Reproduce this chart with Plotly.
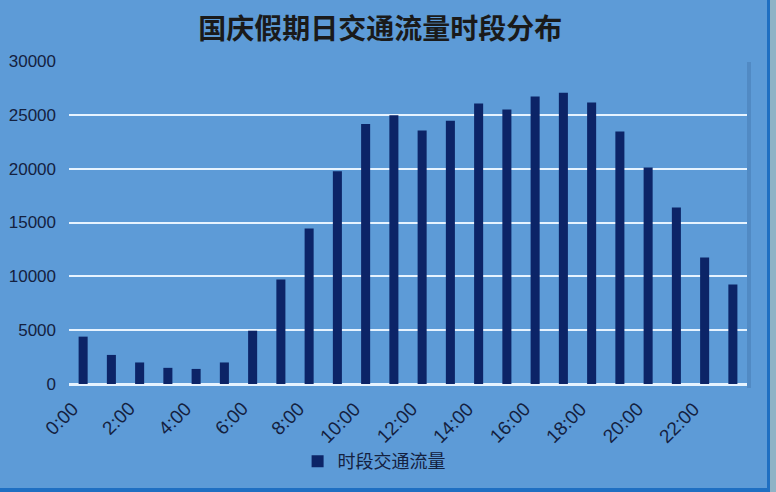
import plotly.graph_objects as go

hours = [f"{h}:00" for h in range(24)]
traffic = [4400, 2700, 2000, 1500, 1400, 2000, 4950, 9700, 14450, 19750,
           24150, 24950, 23550, 24450, 26050, 25500, 26700, 27050, 26150,
           23450, 20100, 16400, 11750, 9250]
tick_labels = [f"{h}:00" for h in range(0, 24, 2)]
series_name = "时段交通流量"
title_text = "国庆假期日交通流量时段分布"
y_ticks = [0, 5000, 10000, 15000, 20000, 25000, 30000]

BG = "#5d9bd7"
BAR = "#0c2467"
GRID = "#e6f3ff"
TXT = "#14213f"

W, H = 776, 492
ML, MR, MT, MB = 69, 29, 61, 108

fig = go.Figure()
fig.add_trace(go.Bar(
    x=hours, y=traffic, name=series_name,
    marker=dict(color=BAR, line=dict(width=0)),
    showlegend=True,
))

pw = W - ML - MR
ph = H - MT - MB

def px_x(x):
    return (x - ML) / pw

def px_y(y):
    return (H - MB - y) / ph

shapes = [
    dict(type="rect", xref="paper", yref="paper", x0=px_x(767), x1=px_x(770),
         y0=px_y(492), y1=px_y(0), fillcolor="#1f6fc2", line=dict(width=0), layer="above"),
    dict(type="rect", xref="paper", yref="paper", x0=px_x(770), x1=px_x(776),
         y0=px_y(492), y1=px_y(0), fillcolor="#8fb3c6", line=dict(width=0), layer="above"),
    dict(type="rect", xref="paper", yref="paper", x0=px_x(0), x1=px_x(767),
         y0=px_y(492), y1=px_y(488), fillcolor="#1f6fc2", line=dict(width=0), layer="above"),
    dict(type="rect", xref="paper", yref="paper", x0=1.0, x1=px_x(751),
         y0=px_y(388), y1=px_y(62), fillcolor="rgba(30,60,110,0.18)", line=dict(width=0), layer="below"),
]

annotations = [
    dict(x=lab, xref="x", y=0, yref="paper", text=lab, showarrow=False,
         textangle=-45, xanchor="right", yanchor="top", xshift=2, yshift=-11,
         font=dict(family="Liberation Sans", size=19, color=TXT))
    for lab in tick_labels
]

fig.update_layout(
    width=W, height=H,
    margin=dict(l=ML, r=MR, t=MT, b=MB, autoexpand=False),
    paper_bgcolor=BG, plot_bgcolor=BG,
    title=dict(text=f"<b>{title_text}</b>", x=0.49, xanchor="center", y=1 - 29 / H, yanchor="middle",
               font=dict(family="Noto Sans CJK SC", size=28, color="#1a1a1a")),
    bargap=0.68,
    xaxis=dict(
        type="category", showticklabels=False, range=[-0.5, len(hours) - 0.5],
        showgrid=False, showline=True, linecolor=GRID, linewidth=2, ticks="",
    ),
    yaxis=dict(
        range=[0, 30000], tickvals=y_ticks, showgrid=True, gridcolor=GRID, gridwidth=2,
        zeroline=True, zerolinecolor=GRID, zerolinewidth=2, showline=False,
        ticks="", ticklabelstandoff=12,
        tickfont=dict(family="Liberation Sans", size=17, color=TXT),
        tickformat="d",
    ),
    legend=dict(orientation="h", x=0.45, xanchor="center", y=-0.24, yanchor="middle",
                bgcolor="rgba(0,0,0,0)",
                font=dict(family="Noto Sans CJK SC", size=18, color=TXT),
                itemwidth=30),
    shapes=shapes,
    annotations=annotations,
)

fig.write_html("out.html", config={"displayModeBar": False},
               post_script="document.body.style.margin='0';document.body.style.padding='0';document.body.style.overflow='hidden';")
